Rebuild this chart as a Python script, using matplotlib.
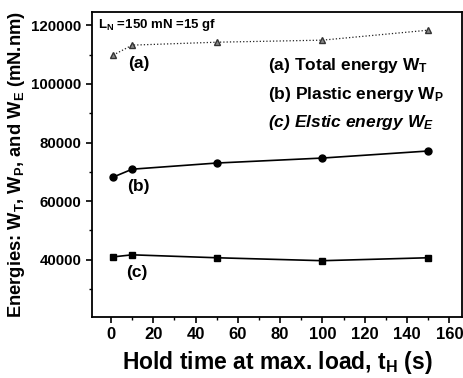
import numpy as np
import matplotlib
matplotlib.use("Agg")
import matplotlib.pyplot as plt
from matplotlib.ticker import MultipleLocator

plt.rcParams['font.family'] = ['Liberation Sans', 'DejaVu Sans']
plt.rcParams['font.weight'] = 'bold'
plt.rcParams['mathtext.fontset'] = 'custom'
plt.rcParams['mathtext.rm'] = 'Liberation Sans:bold'
plt.rcParams['mathtext.bf'] = 'Liberation Sans:bold'
plt.rcParams['mathtext.it'] = 'Liberation Sans:bold:italic'
plt.rcParams['mathtext.default'] = 'bf'

# hold time at max load (s)
hold_time = [1, 10, 50, 100, 150]
# energies (mN.nm)
w_total = [109800, 113200, 114200, 114900, 118300]
w_plastic = [68200, 70900, 73000, 74700, 77100]
w_elastic = [41000, 41700, 40700, 39700, 40700]

fig = plt.figure(figsize=(4.64, 3.78), dpi=100)
ax = fig.add_axes([92/464, 1-317/378, (462-92)/464, (317-12)/378])

ax.plot(hold_time, w_total, ls=':', lw=0.9, color='#222222', marker='^', ms=4,
        mfc='#888888', mec='#333333')
ax.plot(hold_time, w_plastic, ls='-', lw=1.2, color='black', marker='o', ms=5)
ax.plot(hold_time, w_elastic, ls='-', lw=1.2, color='black', marker='s', ms=5)

ax.set_xlim(-9, 166)
ax.set_ylim(20500, 124500)
ax.xaxis.set_major_locator(MultipleLocator(20))
ax.xaxis.set_minor_locator(MultipleLocator(10))
ax.yaxis.set_major_locator(MultipleLocator(20000))
ax.yaxis.set_minor_locator(MultipleLocator(10000))
ax.tick_params(which='both', direction='out', top=False, right=False)
ax.tick_params(axis='x', labelsize=12)
ax.tick_params(axis='y', labelsize=10.8)
ax.tick_params(which='major', length=4, width=1.2)
ax.tick_params(which='minor', length=2.5, width=1)
for lab in ax.get_xticklabels() + ax.get_yticklabels():
    lab.set_fontweight('bold')
for s in ax.spines.values():
    s.set_linewidth(1.3)

ax.set_xlabel('Hold time at max. load, t$_H$ (s)', fontsize=16.5, fontweight='bold', labelpad=5)
ax.set_ylabel('Energies: W$_T$, W$_P$, and W$_E$ (mN.nm)', fontsize=13.2, fontweight='bold', labelpad=3)

ax.text(0.016, 0.957, 'L$_N$ =150 mN =15 gf', transform=ax.transAxes, fontsize=9.5,
        fontweight='bold', va='center', ha='left')
ax.text(13, 107000, '(a)', fontsize=12.5, fontweight='bold', ha='center', va='center')
ax.text(13, 65000, '(b)', fontsize=12.5, fontweight='bold', ha='center', va='center')
ax.text(12, 35600, '(c)', fontsize=12.5, fontweight='bold', ha='center', va='center')

ax.text(0.476, 0.826, '(a) Total energy W$_T$', transform=ax.transAxes, fontsize=12.5, fontweight='bold', va='center')
ax.text(0.476, 0.731, '(b) Plastic energy W$_P$', transform=ax.transAxes, fontsize=12.5, fontweight='bold', va='center')
ax.text(0.476, 0.639, '(c) Elstic energy $\\mathit{W}_\\mathit{E}$', transform=ax.transAxes, fontsize=12.5,
        fontweight='bold', style='italic', va='center')

fig.savefig('out.png', dpi=100)
